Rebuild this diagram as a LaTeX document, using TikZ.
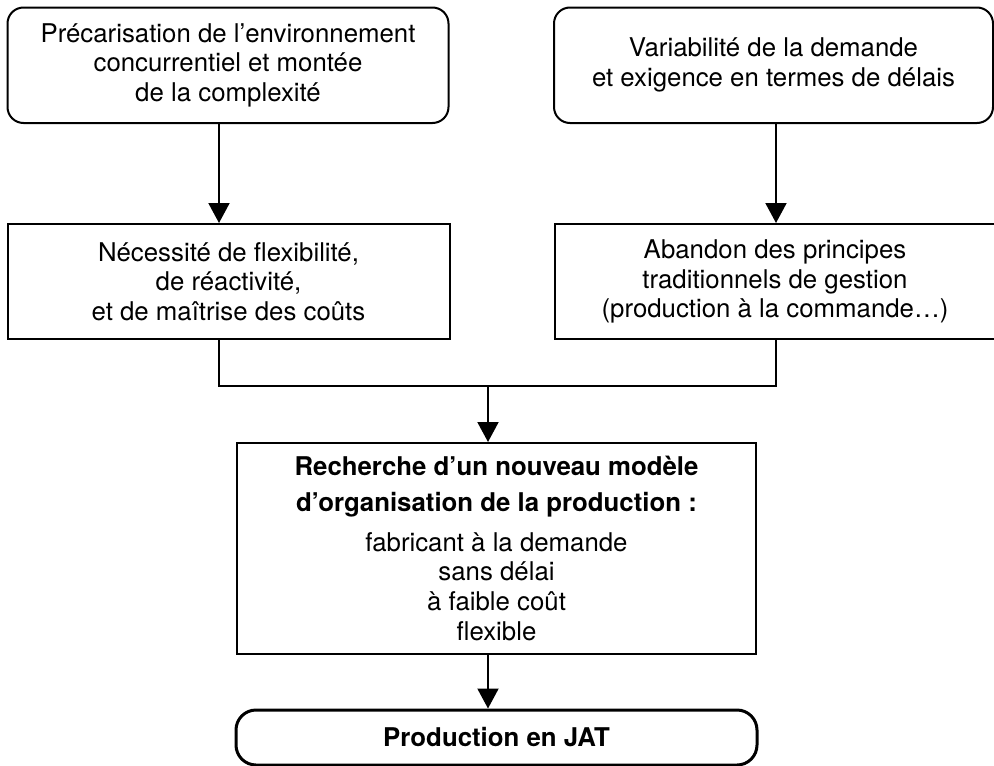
\documentclass[tikz,border=0pt]{standalone}
\usepackage{fontspec}
\setmainfont{TeX Gyre Heros}
\usetikzlibrary{arrows.meta}
\begin{document}
\begin{tikzpicture}[x=1pt,y=-1pt,
  every node/.style={font=\fontsize{25.8}{29.7}\selectfont, align=center, inner sep=0pt},
  cause/.style={draw, line width=2pt, rounded corners=16pt, minimum height=115.5pt},
  effect/.style={draw, line width=2pt, minimum height=115pt},
  modelbox/.style={draw, line width=2pt},
  endbox/.style={draw, line width=3pt, rounded corners=20pt},
  conn/.style={line width=2pt},
  tip/.style={-{Triangle[length=20pt,width=21pt]}}
]
\clip (0,0) rectangle (994,766);
\fill[white] (0,0) rectangle (994,766);

% causes
\node[cause, minimum width=441pt] (env) at (228,65.25)
  {Précarisation de l’environnement\\concurrentiel et montée\\de la complexité};
\node[cause, minimum width=439pt] (dem) at (773.5,65.25)
  {Variabilité de la demande\\et exigence en termes de délais};

% consequences
\node[effect, minimum width=442pt] (flex) at (228.5,281.5)
  {Nécessité de flexibilité,\\de réactivité,\\et de maîtrise des coûts};
\node[effect, minimum width=440pt] (aband) at (775,281.5)
  {Abandon des principes\\traditionnels de gestion\\(production à la commande…)};

% new production model
\node[modelbox, minimum width=519pt, minimum height=211pt] (model) at (496.5,548.5)
  {{\bfseries Recherche d’un nouveau modèle}\\[6pt]
   {\bfseries d’organisation de la production :}\\[10pt]
   fabricant à la demande\\sans délai\\à faible coût\\flexible};

% outcome
\node[endbox, minimum width=521pt, minimum height=55pt] (jat) at (496.5,737.5)
  {\bfseries Production en JAT};

% connector columns and junction
\coordinate (xl) at (219,0);
\coordinate (xr) at (776,0);
\coordinate (jl) at (219,386);
\coordinate (jr) at (776,386);
\coordinate (jc) at (488,386);

\draw[conn, tip] (xl |- env.south) -- (xl |- flex.north);
\draw[conn, tip] (xr |- dem.south) -- (xr |- aband.north);
\draw[conn] (xl |- flex.south) -- (jl) -- (jr) -- (xr |- aband.south);
\draw[conn, tip] (jc) -- (jc |- model.north);
\draw[conn, tip] (jc |- model.south) -- (jc |- jat.north);
\end{tikzpicture}
\end{document}
